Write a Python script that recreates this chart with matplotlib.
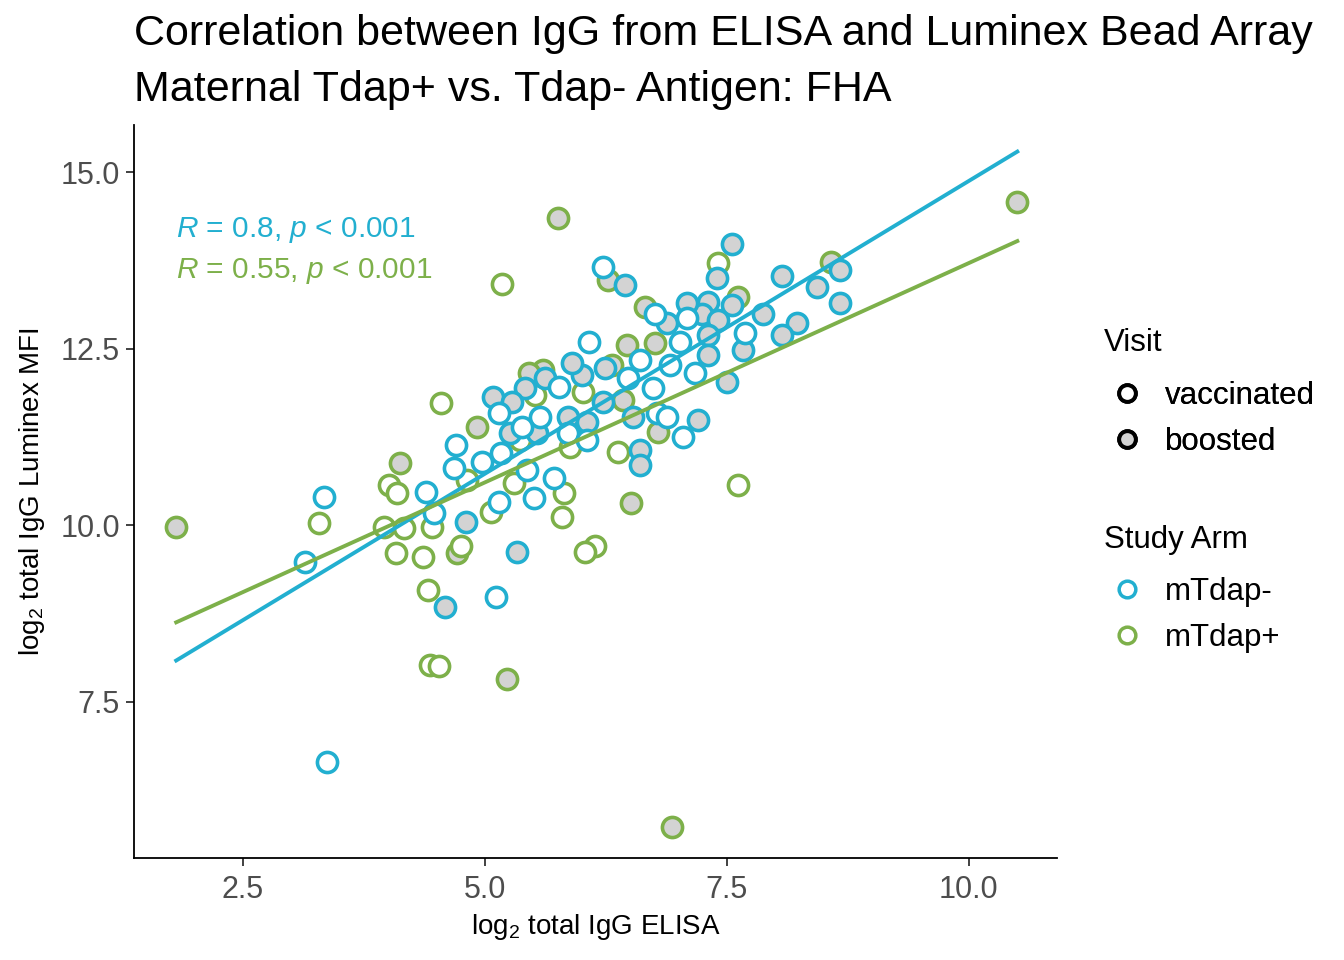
import numpy as np
import matplotlib
matplotlib.use("Agg")
import matplotlib.pyplot as plt
from matplotlib.lines import Line2D

plt.rcParams['font.family'] = ['Liberation Sans', 'DejaVu Sans']
plt.rcParams['mathtext.fontset'] = 'custom'
plt.rcParams['mathtext.rm'] = 'Liberation Sans'
plt.rcParams['mathtext.it'] = 'Liberation Sans:italic'

# ---- data (log2 ELISA, log2 Luminex MFI) ----
neg_vacc_x = [6.22, 6.76, 7.09, 7.01, 6.08, 6.60, 6.48, 5.77, 6.74, 6.91, 7.17, 7.69,
              6.78, 6.88, 7.05, 5.15, 5.57, 5.38, 5.86, 6.05, 4.70, 4.68, 5.17, 4.97,
              5.43, 5.71, 5.14, 5.51, 4.39, 3.34, 4.47, 3.14, 5.11, 3.37]
neg_vacc_y = [13.66, 13.00, 12.93, 12.59, 12.59, 12.34, 12.09, 11.96, 11.94, 12.27, 12.16, 12.72,
              11.59, 11.53, 11.25, 11.59, 11.53, 11.39, 11.31, 11.21, 11.14, 10.81, 11.02, 10.90,
              10.78, 10.67, 10.33, 10.39, 10.47, 10.40, 10.17, 9.48, 8.99, 6.65]

neg_boost_x = [7.55, 6.45, 7.40, 8.07, 8.67, 8.43, 8.67, 7.87, 7.55, 7.30, 7.24, 7.09, 6.88,
               7.41, 7.67, 8.22, 8.07, 7.30, 7.30, 6.24, 6.00, 5.90, 5.62, 5.41, 5.08, 5.28,
               7.50, 6.22, 5.86, 6.05, 6.53, 7.20, 6.60, 6.60, 4.80, 5.33, 4.59, 5.54, 5.26]
neg_boost_y = [13.99, 13.40, 13.50, 13.53, 13.61, 13.37, 13.15, 13.00, 13.12, 13.16, 13.00, 13.15, 12.86,
               12.91, 12.48, 12.86, 12.69, 12.69, 12.41, 12.23, 12.13, 12.30, 12.09, 11.94, 11.82, 11.75,
               12.03, 11.75, 11.53, 11.46, 11.53, 11.49, 11.07, 10.85, 10.05, 9.62, 8.84, 11.31, 11.31]

pos_vacc_x = [5.18, 7.41, 4.55, 4.01, 4.09, 4.81, 5.30, 5.80, 5.82, 5.06, 3.29, 6.37, 7.61,
              4.16, 4.45, 3.96, 4.08, 4.36, 4.75, 4.41, 4.43, 4.52, 6.14, 6.03,
              5.88, 5.36, 6.01, 5.52]
pos_vacc_y = [13.42, 13.71, 11.73, 10.57, 10.46, 10.64, 10.60, 10.12, 10.46, 10.19, 10.03, 11.04, 10.57,
              9.96, 9.98, 9.98, 9.61, 9.55, 9.71, 9.09, 8.02, 8.01, 9.71, 9.62,
              11.11, 11.21, 11.89, 11.84]

pos_boost_x = [1.81, 5.75, 10.50, 4.12, 6.93, 5.23, 6.51, 4.71, 8.58, 4.92, 5.60, 6.27,
               6.65, 6.47, 6.76, 7.61, 6.79, 6.43, 5.46, 6.31]
pos_boost_y = [9.98, 14.35, 14.58, 10.88, 5.73, 7.83, 10.32, 9.61, 13.73, 11.39, 12.20, 13.47,
               13.09, 12.55, 12.58, 13.23, 11.32, 11.77, 12.16, 12.27]

arm_labels = ["mTdap-", "mTdap+"]
visit_labels = ["vaccinated", "boosted"]
cor_labels = [r"$\mathit{R}$ = 0.8, $\mathit{p}$ < 0.001",
              r"$\mathit{R}$ = 0.55, $\mathit{p}$ < 0.001"]

BLUE = "#22AFD0"
GREEN = "#7DB04A"
GREY = "#D3D3D3"

fig = plt.figure(figsize=(13.44, 9.6), dpi=100)
ax = fig.add_axes([134/1344, 1-858/960, (1057-134)/1344, (858-125)/960])

ms = 14.5
mew = 2.6

all_x = np.array(neg_vacc_x + neg_boost_x + pos_vacc_x + pos_boost_x)
xmin, xmax = all_x.min(), all_x.max()

# green points first
ax.plot(pos_boost_x, pos_boost_y, 'o', ms=ms, mew=mew, mec=GREEN, mfc=GREY, zorder=2)
ax.plot(pos_vacc_x, pos_vacc_y, 'o', ms=ms, mew=mew, mec=GREEN, mfc='white', zorder=2)
ax.plot(neg_boost_x, neg_boost_y, 'o', ms=ms, mew=mew, mec=BLUE, mfc=GREY, zorder=3)
ax.plot(neg_vacc_x, neg_vacc_y, 'o', ms=ms, mew=mew, mec=BLUE, mfc='white', zorder=3)

# regression lines
xs = np.linspace(xmin, xmax, 50)
for gx, gy, col in [(neg_vacc_x + neg_boost_x, neg_vacc_y + neg_boost_y, BLUE),
                    (pos_vacc_x + pos_boost_x, pos_vacc_y + pos_boost_y, GREEN)]:
    b, a = np.polyfit(gx, gy, 1)
    ax.plot(xs, a + b * xs, color=col, lw=2.8, zorder=4)

ax.text(1.81, 14.18, cor_labels[0], color=BLUE, fontsize=21.5, va='center', ha='left')
ax.text(1.81, 13.6, cor_labels[1], color=GREEN, fontsize=21.5, va='center', ha='left')

ax.set_xlim(1.374, 10.91)
ax.set_ylim(5.29, 15.67)
ax.set_xticks([2.5, 5.0, 7.5, 10.0])
ax.set_xticklabels(["2.5", "5.0", "7.5", "10.0"])
ax.set_yticks([7.5, 10.0, 12.5, 15.0])
ax.set_yticklabels(["7.5", "10.0", "12.5", "15.0"])
for s in ['top', 'right']:
    ax.spines[s].set_visible(False)
for s in ['left', 'bottom']:
    ax.spines[s].set_linewidth(1.3)
ax.tick_params(axis='both', labelsize=22, labelcolor='#4D4D4D', color='#333333',
               length=6, width=1.3)
ax.tick_params(axis='x', pad=6)
ax.tick_params(axis='y', pad=4)

ax.set_xlabel(r"log$_2$ total IgG ELISA", fontsize=20, labelpad=5)
ax.set_ylabel(r"log$_2$ total IgG Luminex MFI", fontsize=20, labelpad=10)

fig.text(134/1344, 1-14/960,
         "Correlation between IgG from ELISA and Luminex Bead Array\nMaternal Tdap+ vs. Tdap- Antigen: FHA",
         fontsize=31, ha='left', va='top', linespacing=1.5)

# legends (titles drawn as figure text, entries as legends)
vis_handles = [Line2D([], [], ls='', marker='o', ms=12, mew=2.8, mec='black', mfc='white'),
               Line2D([], [], ls='', marker='o', ms=12, mew=2.8, mec='black', mfc=GREY)]
arm_handles = [Line2D([], [], ls='', marker='o', ms=12, mew=2.5, mec=BLUE, mfc='white'),
               Line2D([], [], ls='', marker='o', ms=12, mew=2.5, mec=GREEN, mfc='white')]
leg_kw = dict(loc='center left', frameon=False, fontsize=22.5,
              handletextpad=0.55, labelspacing=0.5,
              handlelength=1.3, borderaxespad=0, borderpad=0)
fig.text(1104/1344, 1-343/960, "Visit", fontsize=22.5, ha='left', va='center')
fig.text(1104/1344, 1-540/960, "Study Arm", fontsize=22.5, ha='left', va='center')
leg1 = fig.legend(vis_handles, visit_labels,
                  bbox_to_anchor=(1107/1344, 1-419/960), **leg_kw)
leg2 = fig.legend(arm_handles, arm_labels,
                  bbox_to_anchor=(1107/1344, 1-615/960), **leg_kw)
fig.add_artist(leg1)

fig.savefig("out.png", dpi=100)
